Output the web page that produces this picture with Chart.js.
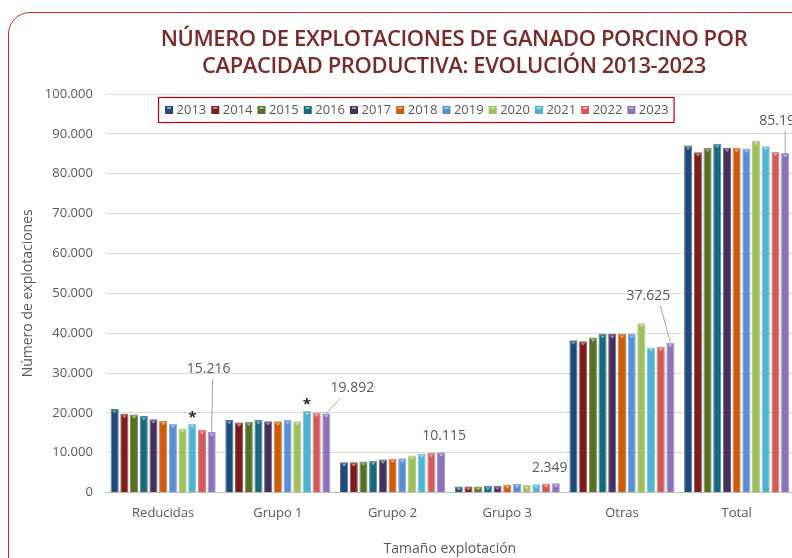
<!DOCTYPE html>
<html>
<head>
<meta charset="utf-8">
<script src="https://cdn.jsdelivr.net/npm/chart.js@4.4.1/dist/chart.umd.min.js"></script>
<style>
  html, body { margin: 0; padding: 0; background: #fff; overflow: hidden; width: 792px; height: 558px; }
  #frame { position: absolute; left: 8px; top: 12px; width: 1000px; height: 1000px;
           border: 1.5px solid #d42a2a; border-radius: 22px; box-sizing: border-box; }
  #title { position: absolute; left: 0; top: 24px; width: 908px; text-align: center;
           font-family: "Open Sans", sans-serif; font-size: 22px; line-height: 27px;
           color: #7b2a2a; font-weight: 600; letter-spacing: -0.4px; }
  #wrap { position: absolute; left: 0; top: 0; }
</style>
</head>
<body>
<div id="frame"></div>
<div id="wrap"><canvas id="chart" width="832" height="558"></canvas></div>
<div id="title">NÚMERO DE EXPLOTACIONES DE GANADO PORCINO POR<br>CAPACIDAD PRODUCTIVA: EVOLUCIÓN 2013-2023</div>
<script>
const categories = ['Reducidas', 'Grupo 1', 'Grupo 2', 'Grupo 3', 'Otras', 'Total'];
const years = ['2013', '2014', '2015', '2016', '2017', '2018', '2019', '2020', '2021', '2022', '2023'];

const values2013 = [21000, 18200, 7600, 1500, 38200, 87100];
const values2014 = [19800, 17600, 7600, 1500, 38000, 85400];
const values2015 = [19600, 17800, 7800, 1500, 38900, 86500];
const values2016 = [19200, 18200, 8000, 1700, 39800, 87500];
const values2017 = [18400, 17900, 8300, 1700, 39800, 86500];
const values2018 = [18000, 17900, 8500, 2000, 39800, 86500];
const values2019 = [17300, 18200, 8600, 2200, 39800, 86300];
const values2020 = [16100, 17900, 9300, 1900, 42500, 88300];
const values2021 = [17300, 20500, 9800, 2100, 36400, 86900];
const values2022 = [15700, 20100, 10000, 2300, 36600, 85500];
const values2023 = [15216, 19892, 10115, 2349, 37625, 85197];

const yearValues = [values2013, values2014, values2015, values2016, values2017, values2018,
  values2019, values2020, values2021, values2022, values2023];

const colors = ['#1f4a7c', '#7d1c1c', '#566f24', '#176a7e', '#44305f', '#cc5c0c',
  '#5b8fd2', '#9dbf5c', '#4fb4cf', '#d35a58', '#8e72b8'];

// categories with an asterisk over the 2021 bar
const asteriskCats = [0, 1];

function fmt(v) {
  return String(v).replace(/\B(?=(\d{3})+(?!\d))/g, '.');
}

function lighten(hex, f) {
  const n = parseInt(hex.slice(1), 16);
  const r = (n >> 16) & 255, g = (n >> 8) & 255, b = n & 255;
  const l = c => Math.round(c + (255 - c) * f);
  return 'rgb(' + l(r) + ',' + l(g) + ',' + l(b) + ')';
}

const FONT = '"Open Sans", sans-serif';
const GREY = '#595959';

// label offsets for the 2023 values (dx, dy from bar top, leader line?)
const labelPos = [
  { dx: -3, dy: -63, line: true },
  { dx: 26, dy: -25, line: true },
  { dx: 3, dy: -16, line: false },
  { dx: -6, dy: -15, line: false },
  { dx: -22, dy: -47, line: true },
  { dx: -4, dy: -32, line: true }
];

const decorPlugin = {
  id: 'decor',
  afterDatasetsDraw(chart) {
    const ctx = chart.ctx;
    // bevel triangles on bar tops
    chart.data.datasets.forEach((ds, di) => {
      chart.getDatasetMeta(di).data.forEach(bar => {
        const w = bar.width;
        ctx.save();
        ctx.fillStyle = lighten(colors[di], 0.45);
        ctx.beginPath();
        ctx.moveTo(bar.x - w * 0.3, bar.y + 1.5);
        ctx.lineTo(bar.x + w * 0.3, bar.y + 1.5);
        ctx.lineTo(bar.x, bar.y + 4.5);
        ctx.closePath();
        ctx.fill();
        ctx.restore();
      });
    });
  },
  afterDraw(chart) {
    const ctx = chart.ctx;
    const area = chart.chartArea;
    // value labels for 2023
    const last = chart.getDatasetMeta(years.length - 1).data;
    ctx.save();
    ctx.font = '14px ' + FONT;
    ctx.fillStyle = GREY;
    ctx.textAlign = 'center';
    ctx.textBaseline = 'middle';
    last.forEach((bar, i) => {
      const p = labelPos[i];
      const lx = bar.x + p.dx, ly = bar.y + p.dy;
      ctx.fillText(fmt(values2023[i]), lx, ly);
      if (p.line) {
        ctx.strokeStyle = '#a6a6a6';
        ctx.lineWidth = 1;
        ctx.beginPath();
        ctx.moveTo(lx + (p.dx > 10 ? -12 : (p.dx < -10 ? 12 : 4)), ly + 10);
        ctx.lineTo(bar.x, bar.y);
        ctx.stroke();
      }
    });
    // asterisks over 2021
    const m21 = chart.getDatasetMeta(years.indexOf('2021')).data;
    ctx.font = 'bold 15px ' + FONT;
    ctx.fillStyle = '#262626';
    asteriskCats.forEach(ci => {
      const bar = m21[ci];
      ctx.fillText('*', bar.x, bar.y - 6);
    });
    // legend
    ctx.font = '13px ' + FONT;
    ctx.textAlign = 'left';
    const box = 8, gapBox = 3.5, gapItem = 5;
    let total = 0;
    const widths = years.map(y => box + gapBox + ctx.measureText(y).width);
    widths.forEach(w => total += w);
    total += gapItem * (years.length - 1);
    const cx = area.left + 311;
    const top = area.top + 3;
    let x = cx - total / 2;
    ctx.strokeStyle = '#c00000';
    ctx.lineWidth = 1.2;
    ctx.strokeRect(cx - total / 2 - 6.5, top + 0.5, total + 12, 25);
    years.forEach((y, i) => {
      ctx.fillStyle = colors[i];
      ctx.fillRect(x, top + 9, box, box);
      ctx.fillStyle = lighten(colors[i], 0.5);
      ctx.fillRect(x + 2, top + 10, box - 4, 2);
      ctx.fillStyle = GREY;
      ctx.fillText(y, x + box + gapBox, top + 13.5);
      x += widths[i] + gapItem;
    });
    ctx.restore();
  }
};

new Chart(document.getElementById('chart'), {
  type: 'bar',
  data: {
    labels: categories,
    datasets: years.map((y, i) => ({
      label: y,
      data: yearValues[i],
      backgroundColor: colors[i],
      borderColor: lighten(colors[i], 0.25),
      borderWidth: 1,
      categoryPercentage: 0.93,
      barPercentage: 0.84
    }))
  },
  options: {
    responsive: false,
    devicePixelRatio: 1,
    animation: false,
    layout: { padding: { top: 94, left: 20, right: 38, bottom: 0 } },
    plugins: {
      legend: { display: false },
      tooltip: { enabled: false },
      title: { display: false }
    },
    scales: {
      x: {
        grid: { display: false },
        border: { color: '#bfbfbf' },
        ticks: { color: GREY, font: { family: FONT, size: 13 }, padding: 5 },
        title: { display: true, text: 'Tamaño explotación', color: GREY,
                 font: { family: FONT, size: 14 }, padding: { top: 14, bottom: 1 } }
      },
      y: {
        min: 0,
        max: 100000,
        grid: { color: '#d9d9d9', drawTicks: false },
        border: { display: false },
        ticks: { stepSize: 10000, color: GREY, font: { family: FONT, size: 13 }, padding: 13,
                 callback: v => fmt(v) },
        title: { display: true, text: 'Número de explotaciones', color: GREY,
                 font: { family: FONT, size: 14 }, padding: { top: 0, bottom: -5 } }
      }
    }
  },
  plugins: [decorPlugin]
});
</script>
</body>
</html>
